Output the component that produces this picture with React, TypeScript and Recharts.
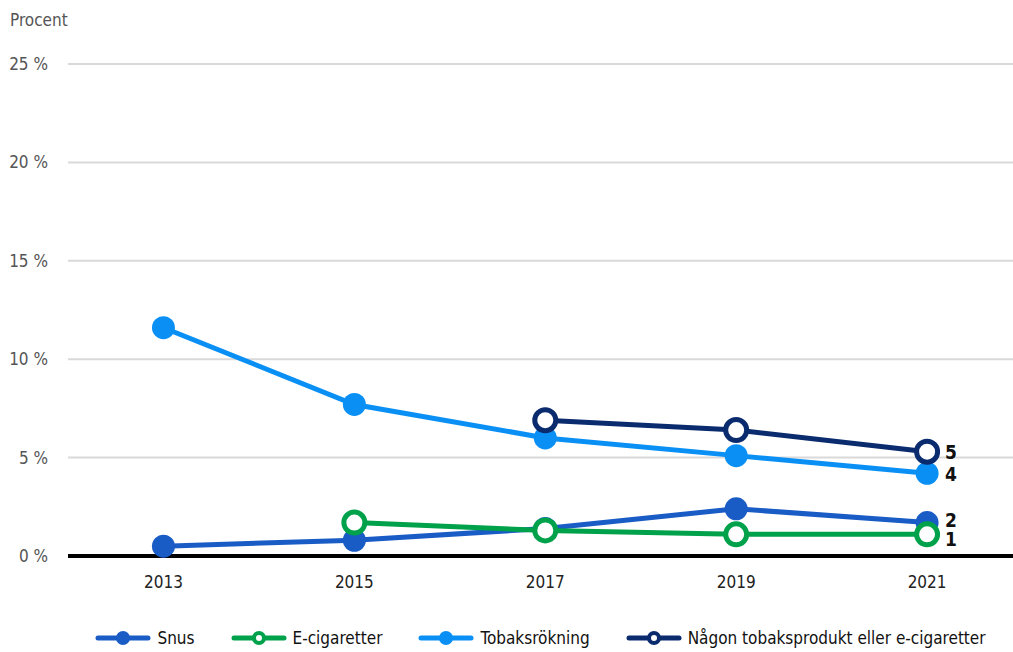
import React from 'react';
import { LineChart, Line, XAxis, YAxis, CartesianGrid, LabelList } from 'recharts';

const years = [2013, 2015, 2017, 2019, 2021];
const snus = [0.5, 0.8, 1.4, 2.4, 1.7];
const eCig = [null, 1.7, 1.3, 1.1, 1.1];
const tobak = [11.6, 7.7, 6.0, 5.1, 4.2];
const nagon = [null, null, 6.9, 6.4, 5.3];
const yTicks = [0, 5, 10, 15, 20, 25];

const data = years.map((year, i) => ({
  year,
  snus: snus[i],
  eCig: eCig[i],
  tobak: tobak[i],
  nagon: nagon[i],
}));

const series = [
  { key: 'snus', name: 'Snus', color: '#1a5cc6', hollow: false, dy: -3 },
  { key: 'eCig', name: 'E-cigaretter', color: '#00a14b', hollow: true, dy: 5 },
  { key: 'tobak', name: 'Tobaksrökning', color: '#0a90f5', hollow: false, dy: 1 },
  { key: 'nagon', name: 'Någon tobaksprodukt eller e-cigaretter', color: '#0a2b6e', hollow: true, dy: 0 },
];

const FONT = '"DejaVu Sans", sans-serif';
const cond = { fontStretch: 'condensed' as const };

const EndLabel = (dy: number) => (props: any) => {
  const { x, y, value, index } = props;
  if (index !== years.length - 1 || value == null) return null;
  return (
    <text x={x + 18} y={y + dy} dominantBaseline="central" fontFamily={FONT} style={cond} fontSize={19} fontWeight="bold" fill="#111">
      {Math.round(value)}
    </text>
  );
};

function LegendIcon({ color, hollow }: { color: string; hollow: boolean }) {
  return (
    <svg width={56} height={16} style={{ marginRight: 6, flexShrink: 0 }}>
      <line x1={3} y1={8} x2={53} y2={8} stroke={color} strokeWidth={5} strokeLinecap="round" />
      {hollow ? (
        <circle cx={28} cy={8} r={5} fill="#fff" stroke={color} strokeWidth={4} />
      ) : (
        <circle cx={28} cy={8} r={7} fill={color} />
      )}
    </svg>
  );
}

export default function App() {
  return (
    <div style={{ position: 'absolute', left: 0, top: 0, width: 1013, height: 652, background: '#fff', fontFamily: FONT, ...cond }}>
      <div style={{ position: 'absolute', left: 10, top: 10, fontSize: 17, color: '#555' }}>Procent</div>
      <LineChart width={1013} height={652} data={data} margin={{ top: 64, right: 0, bottom: 60, left: 0 }}>
        <CartesianGrid horizontal vertical={false} stroke="#d9d9d9" strokeWidth={2} />
        <XAxis
          dataKey="year"
          type="number"
          domain={[2012, 2021.9]}
          ticks={years}
          height={36}
          tickLine={false}
          tickSize={0}
          tickMargin={20}
          axisLine={{ stroke: '#000', strokeWidth: 4 }}
          tick={{ fill: '#222', fontSize: 17, fontFamily: FONT, style: cond }}
        />
        <YAxis
          domain={[0, 25]}
          ticks={yTicks}
          width={68}
          axisLine={false}
          tickLine={false}
          tickSize={0}
          tickMargin={20}
          tickFormatter={(v) => `${v} %`}
          tick={{ fill: '#555', fontSize: 17, fontFamily: FONT, style: cond }}
        />
        {series.map((s) => (
          <Line
            key={s.key}
            dataKey={s.key}
            name={s.name}
            stroke={s.color}
            strokeWidth={5}
            type="linear"
            isAnimationActive={false}
            dot={
              s.hollow
                ? { r: 10.5, fill: '#fff', stroke: s.color, strokeWidth: 5 }
                : { r: 11.5, fill: s.color, stroke: s.color, strokeWidth: 0 }
            }
            activeDot={false}
          >
            <LabelList dataKey={s.key} content={EndLabel(s.dy)} />
          </Line>
        ))}
      </LineChart>
      <div
        style={{
          position: 'absolute',
          left: 68,
          width: 945,
          top: 628,
          display: 'flex',
          justifyContent: 'center',
          alignItems: 'center',
          gap: 36,
          fontSize: 17,
          color: '#111',
          whiteSpace: 'nowrap',
        }}
      >
        {series.map((s) => (
          <div key={s.key} style={{ display: 'flex', alignItems: 'center' }}>
            <LegendIcon color={s.color} hollow={s.hollow} />
            <span>{s.name}</span>
          </div>
        ))}
      </div>
    </div>
  );
}
